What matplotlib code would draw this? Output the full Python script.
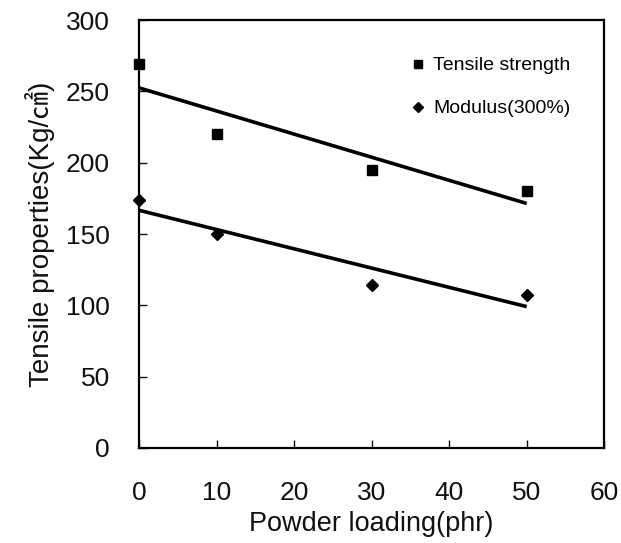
import numpy as np
from matplotlib import pyplot as plt

plt.rcParams['font.family'] = ['Liberation Sans', 'Noto Sans CJK KR']

# powder loading (phr)
loading = [0, 10, 30, 50]
# tensile strength and 300% modulus (Kg/cm2)
tensile = [269, 220, 195, 180]
modulus = [174, 150, 114, 107]

x_ticks = [0, 10, 20, 30, 40, 50, 60]
y_ticks = [0, 50, 100, 150, 200, 250, 300]


def fit_line(x, y):
    slope, intercept = np.polyfit(x, y, 1)
    xs = np.array([min(x), max(x)])
    return xs, slope * xs + intercept


fig = plt.figure(figsize=(6.21, 5.43), dpi=100)
ax = fig.add_axes([0.224, 0.175, 0.749, 0.788])

ax.plot(loading, tensile, 's', color='black', ms=7, label='Tensile strength', clip_on=False, zorder=3)
ax.plot(loading, modulus, 'D', color='black', ms=6, label='Modulus(300%)', clip_on=False, zorder=3)

xs, ys = fit_line(loading, tensile)
ax.plot(xs, ys, color='black', lw=2.6, solid_capstyle='butt')
xs, ys = fit_line(loading, modulus)
ax.plot(xs, ys, color='black', lw=2.6, solid_capstyle='butt')

ax.set_xlim(0, 60)
ax.set_ylim(0, 300)
ax.set_xticks(x_ticks)
ax.set_yticks(y_ticks)
ax.tick_params(direction='in', length=6, width=1, labelsize=19, colors='#111111')
ax.tick_params(axis='y', pad=21)
ax.tick_params(axis='x', pad=24)
for s in ax.spines.values():
    s.set_linewidth(1.6)

ax.set_xlabel('Powder loading(phr)', fontsize=19.5, labelpad=4, color='#111111')
ax.set_ylabel('Tensile properties(Kg/㎠)', fontsize=20, labelpad=8, color='#111111')

ax.legend(loc='upper left', bbox_to_anchor=(0.545, 0.955), frameon=False, fontsize=14,
          handlelength=0.8, handletextpad=0.4, labelspacing=1.3, markerscale=0.9)

fig.savefig('out.png', dpi=100)
